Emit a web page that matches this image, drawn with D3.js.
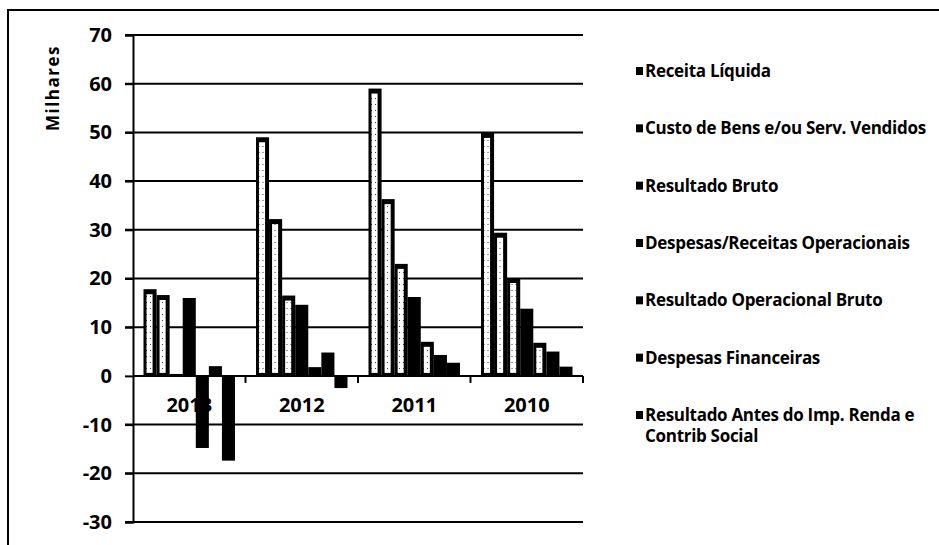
<!DOCTYPE html>
<html><head><meta charset="utf-8">
<script src="https://cdn.jsdelivr.net/npm/d3@7"></script>
<style>body{margin:0;background:#fff}svg{display:block}text{font-family:"Open Sans",Lato,sans-serif;font-weight:bold;fill:#000}</style>
</head><body>
<svg id="c" width="939" height="545"></svg>
<script>
const categories = ["2013","2012","2011","2010"];
const seriesNames = ["Receita Líquida","Custo de Bens e/ou Serv. Vendidos","Resultado Bruto","Despesas/Receitas Operacionais","Resultado Operacional Bruto","Despesas Financeiras","Resultado Antes do Imp. Renda e Contrib Social"];
const receitaLiquida      = [17.8, 49.0, 59.0, 49.9];
const custoBens           = [16.6, 32.2, 36.3, 29.4];
const resultadoBruto      = [0.4, 16.5, 23.0, 20.1];
const despesasReceitasOp  = [16.0, 14.6, 16.2, 13.8];
const resultadoOpBruto    = [-14.8, 1.8, 7.0, 6.8];
const despesasFinanceiras = [2.0, 4.8, 4.3, 5.0];
const resultadoAntesImp   = [-17.4, -2.5, 2.7, 1.9];
const yTicks = [-30,-20,-10,0,10,20,30,40,50,60,70];
const values = [receitaLiquida, custoBens, resultadoBruto, despesasReceitasOp, resultadoOpBruto, despesasFinanceiras, resultadoAntesImp];
const lightSeries = [true, true, true, false, true, false, false];

const svg = d3.select("#c");
const defs = svg.append("defs");
const pat = defs.append("pattern").attr("id","dots").attr("width",4).attr("height",6).attr("patternUnits","userSpaceOnUse");
pat.append("rect").attr("width",4).attr("height",6).attr("fill","#fff");
pat.append("rect").attr("x",1).attr("y",2).attr("width",1).attr("height",1).attr("fill","#444");

// outer border
svg.append("rect").attr("x",8).attr("y",10).attr("width",1000).attr("height",600).attr("fill","none").attr("stroke","#000").attr("stroke-width",2);

const x0 = d3.scaleBand().domain(categories).range([133,583]).paddingInner(0).paddingOuter(0);
const x1 = d3.scaleBand().domain(d3.range(seriesNames.length)).range([10.5, x0.bandwidth()-10.5]).padding(0);
const y = d3.scaleLinear().domain([-30,70]).range([522,35]);

// gridlines
svg.append("g").selectAll("line").data(yTicks.filter(t=>t!==0)).join("line")
  .attr("x1",125).attr("x2",583).attr("y1",d=>y(d)).attr("y2",d=>y(d))
  .attr("stroke","#000").attr("stroke-width",2);

// y axis
const yAxis = svg.append("g").attr("transform","translate(133,0)")
  .call(d3.axisLeft(y).tickValues(yTicks).tickSize(8).tickPadding(13).tickFormat(d=>String(d)));
yAxis.select(".domain").attr("stroke","#000").attr("stroke-width",2);
yAxis.selectAll(".tick line").attr("stroke","#000").attr("stroke-width",2);
yAxis.selectAll(".tick text").style("font-size","20px").style("font-family","'Open Sans', sans-serif").style("font-weight","bold").attr("fill","#000");

svg.append("text").attr("transform","translate(59,88) rotate(-90)").attr("text-anchor","middle")
  .style("font-size","17px").style("letter-spacing","1.5px").text("Milhares");

// bars
const groups = svg.append("g").selectAll("g").data(categories).join("g")
  .attr("transform",d=>`translate(${x0(d)},0)`);
groups.each(function(cat, ci){
  const g = d3.select(this);
  values.forEach((arr, si)=>{
    const v = arr[ci];
    const bx = x1(si), bw = x1.bandwidth();
    const top = y(Math.max(0,v)), bot = y(Math.min(0,v));
    g.append("rect").attr("x",bx).attr("y",top).attr("width",bw).attr("height",Math.max(2,bot-top)).attr("fill","#000");
    if (lightSeries[si] && v > 0 && (bot-top) > 12) {
      g.append("rect").attr("x",bx+3).attr("y",top+5).attr("width",bw-7).attr("height",bot-top-8).attr("fill","url(#dots)");
    }
  });
});

// category axis at zero
const xAxis = svg.append("g").attr("transform",`translate(0,${y(0)})`)
  .call(d3.axisBottom(x0).tickSize(0).tickPadding(22));
xAxis.select(".domain").attr("stroke","#000").attr("stroke-width",2).attr("d",`M133,0H583`);
xAxis.selectAll(".tick text").style("font-size","20px").style("font-family","'Open Sans', sans-serif").style("font-weight","bold").attr("fill","#000");
svg.append("g").selectAll("line").data(categories).join("line")
  .attr("x1",d=>x0(d)+x0.bandwidth()).attr("x2",d=>x0(d)+x0.bandwidth())
  .attr("y1",y(0)).attr("y2",y(0)+7).attr("stroke","#000").attr("stroke-width",2);

// legend
const legendY = d3.scaleLinear().domain([0,6]).range([71,415]);
const leg = svg.append("g").selectAll("g").data(seriesNames).join("g")
  .attr("transform",(d,i)=>`translate(636,${legendY(i)})`);
leg.append("rect").attr("x",0).attr("y",-4).attr("width",7).attr("height",8).attr("fill","#000");
leg.each(function(d,i){
  const t = d3.select(this).append("text").attr("x",9).attr("y",6).style("font-size","17px").style("letter-spacing","-0.3px");
  if (i===6){
    t.append("tspan").attr("x",9).text("Resultado Antes do Imp. Renda e");
    t.append("tspan").attr("x",9).attr("dy",21).text("Contrib Social");
  } else t.text(d);
});
</script>
</body></html>
